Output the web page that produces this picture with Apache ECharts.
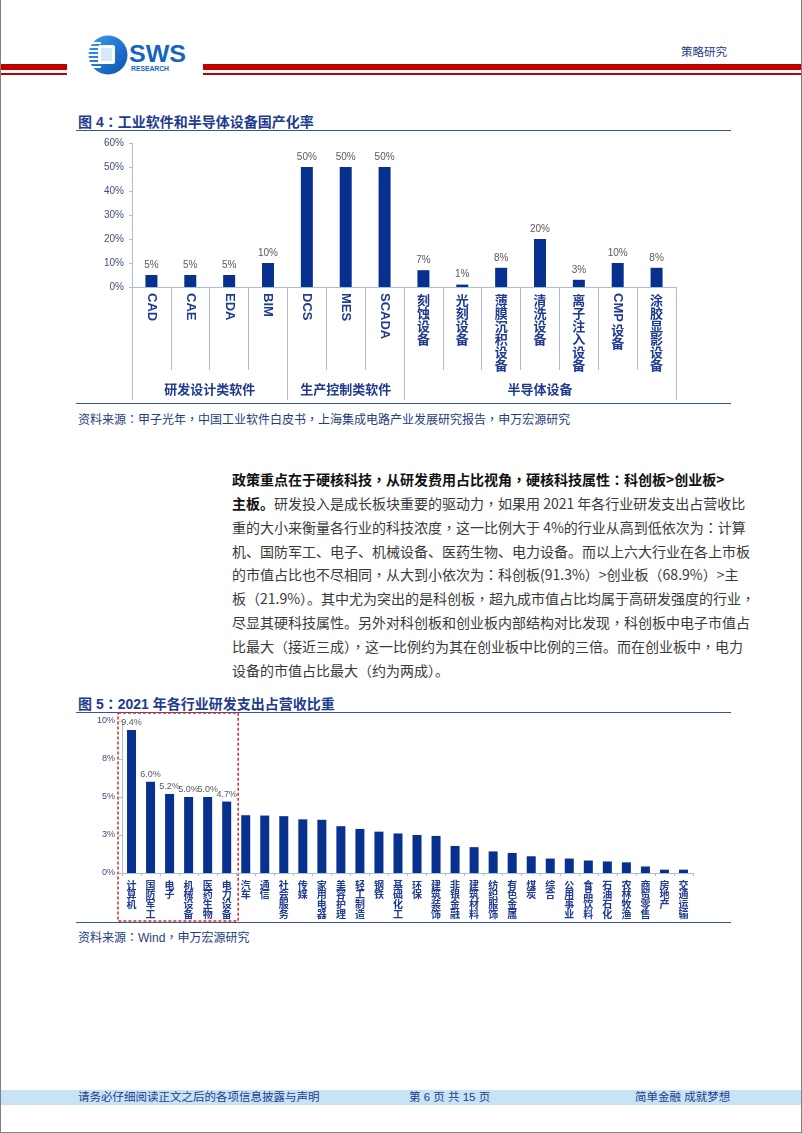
<!DOCTYPE html>
<html><head><meta charset="utf-8">
<script src="https://cdn.jsdelivr.net/npm/echarts@6/dist/echarts.min.js"></script>
<style>
html,body{margin:0;padding:0;background:#fff;}
#page{position:relative;width:802px;height:1133px;overflow:hidden;box-sizing:border-box;border-left:1px solid #808080;border-right:1px solid #808080;border-bottom:1px solid #808080;font-family:"Liberation Sans","Noto Sans CJK SC",sans-serif;}
#chart{position:absolute;left:0;top:0;width:802px;height:1133px;}
.abs{position:absolute;white-space:nowrap;}
.red{position:absolute;background:#c00000;}
.title{position:absolute;left:77px;font-size:14px;font-weight:bold;color:#1f3b8f;line-height:20px;height:20px;white-space:nowrap;}
.src{position:absolute;left:77px;font-size:12px;color:#253d80;line-height:16px;white-space:nowrap;}
.hline{position:absolute;left:75px;width:655px;height:0;border-top:1.5px solid #3553a6;}
.pline{position:absolute;left:231px;width:490px;font-size:14px;line-height:20px;height:20px;color:#3a3a3a;text-align:justify;text-align-last:justify;white-space:nowrap;font-family:"Noto Sans CJK SC","Liberation Sans",sans-serif;}
.pline b{color:#111;}
.tcp{font-family:"Noto Sans CJK TC","Noto Sans CJK SC",sans-serif;}
.foot{position:absolute;top:1090px;left:0;width:802px;height:15px;background:#c9e3f6;}
.ft{position:absolute;top:1090px;font-size:11.5px;line-height:15px;color:#1f3c8c;white-space:nowrap;}
</style></head>
<body>
<div id="page">
  <!-- header -->
  <div class="red" style="left:0;top:64px;width:66px;height:6px;"></div>
  <div class="red" style="left:0;top:73px;width:66px;height:2px;"></div>
  <div class="red" style="left:202px;top:64px;width:600px;height:6px;"></div>
  <div class="red" style="left:202px;top:73px;width:600px;height:2px;"></div>
  <svg class="abs" style="left:82px;top:32px;" width="110" height="48" viewBox="0 0 110 48">
    <defs><linearGradient id="lg" x1="0" y1="0" x2="1" y2="1"><stop offset="0" stop-color="#3aa0ef"/><stop offset="1" stop-color="#0b4fb0"/></linearGradient></defs>
    <circle cx="25" cy="23" r="19.5" fill="url(#lg)"/>
    <rect x="4" y="10" width="14" height="2" fill="#fff"/>
    <rect x="4" y="14" width="14" height="2" fill="#fff"/>
    <rect x="4" y="18" width="14" height="2" fill="#fff"/>
    <rect x="4" y="22" width="14" height="2" fill="#fff"/>
    <rect x="4" y="26" width="14" height="2" fill="#fff"/>
    <rect x="4" y="30" width="14" height="2" fill="#fff"/>
    <rect x="4" y="34" width="14" height="2" fill="#fff"/>
    <rect x="15" y="13" width="17" height="19" rx="2" fill="#fff"/>
    <rect x="18" y="16" width="11" height="13" fill="#d6e9fb"/>
    <text x="46" y="30" font-family="Liberation Sans" font-weight="bold" font-size="24" textLength="57" lengthAdjust="spacingAndGlyphs" fill="#1565c0">SWS</text>
    <text x="48" y="38.5" font-family="Liberation Sans" font-weight="bold" font-size="8" textLength="38" lengthAdjust="spacingAndGlyphs" fill="#1565c0">RESEARCH</text>
  </svg>
  <div class="abs" style="left:680px;top:44px;font-size:11.5px;line-height:16px;color:#1f3c8c;">策略研究</div>

  <!-- chart 1 captions -->
  <div class="title cp" style="top:111px;">图 4：工业软件和半导体设备国产化率</div>
  <div class="hline" style="top:130px;"></div>
  <div class="hline" style="top:403px;"></div>
  <div class="src cp" style="top:411px;">资料来源：甲子光年，中国工业软件白皮书，上海集成电路产业发展研究报告，申万宏源研究</div>

  <!-- paragraph -->
  <div class="pline cp" style="top:469px;"><b>政策重点在于硬核科技，从研发费用占比视角，硬核科技属性：科创板&gt;创业板&gt;</b></div>
  <div class="pline cp" style="top:493px;"><b>主板。</b>研发投入是成长板块重要的驱动力，如果用 2021 年各行业研发支出占营收比</div>
  <div class="pline cp" style="top:517px;">重的大小来衡量各行业的科技浓度，这一比例大于 4%的行业从高到低依次为：计算</div>
  <div class="pline cp" style="top:541px;">机、国防军工、电子、机械设备、医药生物、电力设备。而以上六大行业在各上市板</div>
  <div class="pline cp" style="top:564px;">的市值占比也不尽相同，从大到小依次为：科创板(91.3%）&gt;创业板（68.9%）&gt;主</div>
  <div class="pline cp" style="top:588px;">板（21.9%）。其中尤为突出的是科创板，超九成市值占比均属于高研发强度的行业，</div>
  <div class="pline cp" style="top:612px;">尽显其硬科技属性。另外对科创板和创业板内部结构对比发现，科创板中电子市值占</div>
  <div class="pline cp" style="top:636px;">比最大（接近三成），这一比例约为其在创业板中比例的三倍。而在创业板中，电力</div>
  <div class="abs cp" style="left:231px;top:660px;font-size:14px;line-height:20px;color:#3a3a3a;font-family:'Noto Sans CJK SC',sans-serif;">设备的市值占比最大（约为两成）。</div>

  <!-- chart 2 captions -->
  <div class="title cp" style="top:693px;">图 5：2021 年各行业研发支出占营收比重</div>
  <div class="hline" style="top:712px;"></div>
  <div class="hline" style="top:922px;"></div>
  <div class="src cp" style="top:929px;">资料来源：Wind，申万宏源研究</div>

  <div id="chart"></div>

  <!-- footer -->
  <div class="foot"></div>
  <div class="ft" style="left:77px;">请务必仔细阅读正文之后的各项信息披露与声明</div>
  <div class="ft" style="left:408px;">第 6 页 共 15 页</div>
  <div class="ft" style="left:634px;">简单金融 成就梦想</div>
</div>
<script>
// centred full-width comma / colon, as in the reference typeface
document.querySelectorAll('.cp').forEach(el=>{
  el.innerHTML = el.innerHTML.replace(/([，：])/g, '<span class="tcp">$1</span>');
});

// ---- Chart 1 data ----
const cats1 = ['CAD','CAE','EDA','BIM','DCS','MES','SCADA','刻蚀设备','光刻设备','薄膜沉积设备','清洗设备','离子注入设备','CMP 设备','涂胶显影设备'];
const vals1 = [5,5,5,10,50,50,50,7,1,8,20,3,10,8];
const groupNames1 = ['研发设计类软件','生产控制类软件','半导体设备'];
const groupSizes1 = [4,3,7];
const yMin1 = 0, yMax1 = 60, yStep1 = 10;

// ---- Chart 2 data ----
const cats2 = ['计算机','国防军工','电子','机械设备','医药生物','电力设备','汽车','通信','社会服务','传媒','家用电器','美容护理','轻工制造','钢铁','基础化工','环保','建筑装饰','非银金融','建筑材料','纺织服饰','有色金属','煤炭','综合','公用事业','食品饮料','石油石化','农林牧渔','商贸零售','房地产','交通运输'];
const vals2 = [9.4,6.0,5.2,5.0,5.0,4.7,3.8,3.78,3.74,3.53,3.5,3.08,2.9,2.72,2.6,2.5,2.44,1.78,1.7,1.42,1.32,1.1,0.95,0.95,0.82,0.76,0.7,0.43,0.22,0.22];
const labeledCount2 = 6;
const yMin2 = 0, yMax2 = 10, yStep2 = 2.5;

const FONT = '"Liberation Sans","Noto Sans CJK SC",sans-serif';
const BAR = '#08308e';
const AX = '#a9bedd';
const LBL = '#1f3a8f';

const latinPart = s => { const m = s.match(/^[A-Za-z]+/); return m ? m[0] : ''; };

const chart = echarts.init(document.getElementById('chart'), null, {renderer:'canvas'});
const option = {
  animation:false,
  textStyle:{fontFamily:FONT},
  grid:[
    {left:131, right:127, top:143, bottom:846, containLabel:false},
    {left:121, right:110, top:721, bottom:260, containLabel:false}
  ],
  xAxis:[
    { gridIndex:0, type:'category', data:cats1, position:'bottom',
      axisLine:{lineStyle:{color:AX, width:1}},
      axisTick:{show:true, length:83, lineStyle:{color:AX, width:1}},
      axisLabel:{interval:0, rotate:-90, margin:6, fontSize:13, fontWeight:'bold', color:LBL,
        formatter:v=>latinPart(v)} },
    { gridIndex:0, type:'category', data:cats1, position:'bottom', offset:0,
      axisLine:{show:false}, axisTick:{show:false},
      axisLabel:{interval:0, margin:8, fontSize:13, fontWeight:'bold', color:LBL, lineHeight:13,
        rich:{sp:{height:30, lineHeight:30}},
        formatter:v=>{
          const lat = latinPart(v);
          const rest = v.slice(lat.length).trim();
          if (!rest) return '';
          const stacked = rest.split('').join('\n');
          return lat ? '{sp| }\n' + stacked : stacked;
        }} },
    { gridIndex:1, type:'category', data:cats2, position:'bottom',
      axisLine:{lineStyle:{color:AX, width:1}},
      axisTick:{show:true, length:3, lineStyle:{color:AX}},
      axisLabel:{interval:0, margin:8, fontSize:10, fontWeight:'bold', color:LBL, lineHeight:9.8,
        formatter:v=>v.split('').join('\n')} }
  ],
  yAxis:[
    { gridIndex:0, type:'value', min:yMin1, max:yMax1, interval:yStep1,
      axisLine:{show:true, lineStyle:{color:AX}},
      axisTick:{show:true, length:3, lineStyle:{color:AX}},
      splitLine:{show:false},
      axisLabel:{margin:8, fontSize:10, color:'#3e4c7c', formatter:v=>v+'%'} },
    { gridIndex:1, type:'value', min:yMin2, max:yMax2, interval:yStep2,
      axisLine:{show:true, lineStyle:{color:AX}},
      axisTick:{show:true, length:3, lineStyle:{color:AX}},
      splitLine:{show:false},
      axisLabel:{margin:7, fontSize:9, color:'#3e4c7c', formatter:v=>Math.round(v)+'%'} }
  ],
  series:[
    { type:'bar', xAxisIndex:0, yAxisIndex:0, data:vals1, barWidth:12,
      itemStyle:{color:BAR},
      label:{show:true, position:'top', distance:5, fontSize:10, color:'#595959', formatter:p=>p.value+'%'} },
    { type:'bar', xAxisIndex:2, yAxisIndex:1, barWidth:9,
      data:vals2.map((v,i)=>({value:v, label:{show:i<labeledCount2}})),
      itemStyle:{color:BAR},
      label:{position:'top', distance:3, fontSize:9, color:'#595959', formatter:p=>p.value.toFixed(1)+'%'} }
  ]
};
chart.setOption(option);

// decorations computed from axes
const px1 = i => chart.convertToPixel({xAxisIndex:0}, i);
const band1 = px1(1) - px1(0);
const y0_1 = chart.convertToPixel({yAxisIndex:0}, 0);
const graphics = [];
let start = 0;
const bounds = [0];
groupSizes1.forEach((n,gi)=>{
  const left = px1(start) - band1/2;
  const right = px1(start+n-1) + band1/2;
  graphics.push({type:'text', x:(left+right)/2, y:y0_1+103,
    style:{text:groupNames1[gi], font:'bold 13px '+FONT, fill:LBL, textAlign:'center', textVerticalAlign:'middle'}});
  start += n; bounds.push(start);
});
bounds.forEach(b=>{
  const x = Math.round((b===0 ? px1(0)-band1/2 : px1(b-1)+band1/2)) + 0.5;
  graphics.push({type:'line', shape:{x1:x, y1:y0_1, x2:x, y2:y0_1+113}, style:{stroke:AX, lineWidth:1}});
});
const px2 = i => chart.convertToPixel({xAxisIndex:2}, i);
const band2 = px2(1) - px2(0);
const y0_2 = chart.convertToPixel({yAxisIndex:1}, 0);
const yTop2 = chart.convertToPixel({yAxisIndex:1}, yMax2);
const bx1 = px2(0) - band2/2 - 4, bx2 = px2(labeledCount2-1) + band2/2 + 2;
graphics.push({type:'rect', shape:{x:bx1, y:yTop2-8, width:bx2-bx1, height:(y0_2+48)-(yTop2-8)},
  style:{fill:'none', stroke:'#d62a2a', lineWidth:1.5, lineDash:[3,2]}});
chart.setOption({graphic:graphics});
</script>
</body></html>
